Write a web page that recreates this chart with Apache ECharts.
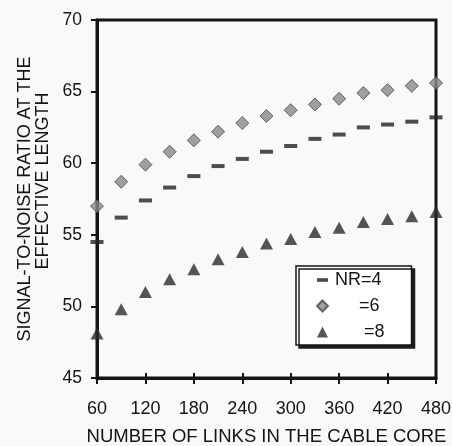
<!DOCTYPE html>
<html>
<head>
<meta charset="utf-8">
<script src="https://cdn.jsdelivr.net/npm/echarts@6/dist/echarts.min.js"></script>
<style>
html, body { margin: 0; padding: 0; background: #f8f9fb; }
#container { width: 452px; height: 446px; }
</style>
</head>
<body>
<div id="container"></div>
<script>
// number of links in the cable core
var links = [60, 90, 120, 150, 180, 210, 240, 270, 300, 330, 360, 390, 420, 450, 480];
// signal-to-noise ratio at the effective length, per NR
var snrNR4 = [54.5, 56.2, 57.4, 58.3, 59.1, 59.8, 60.3, 60.8, 61.2, 61.7, 62.0, 62.5, 62.7, 62.9, 63.2];
var snrNR6 = [57.0, 58.7, 59.9, 60.8, 61.6, 62.2, 62.8, 63.3, 63.7, 64.1, 64.5, 64.9, 65.1, 65.4, 65.6];
var snrNR8 = [48.1, 49.8, 51.0, 51.9, 52.6, 53.3, 53.8, 54.4, 54.7, 55.2, 55.5, 55.9, 56.1, 56.3, 56.6];
var seriesNames = ['NR=4', '=6', '=8'];

function pairs(ys) {
    return links.map(function (x, i) { return [x, ys[i]]; });
}

window.onload = function()
{
var myChart = echarts.init(document.getElementById('container'), null, {renderer: 'canvas'});
var font = 'Liberation Sans, Arial, sans-serif';
var ink = '#141414';

var option = {
    backgroundColor: '#f8f9fb',
    textStyle: { fontFamily: font, color: ink },
    grid: {
        left: 97, right: 16, top: 20, bottom: 68,
        outerBoundsMode: 'none',
        show: true,
        borderColor: ink,
        borderWidth: 3
    },
    legend: {
        orient: 'vertical',
        left: 296,
        top: 266,
        padding: [5, 27, 4, 20],
        itemGap: 8,
        itemWidth: 11,
        itemHeight: 11,
        backgroundColor: '#ffffff',
        borderColor: ink,
        borderWidth: 1.5,
        shadowColor: '#1c1c1c',
        shadowBlur: 0,
        shadowOffsetX: 3,
        shadowOffsetY: 3,
        selectedMode: false,
        textStyle: {
            fontSize: 18,
            color: ink,
            rich: {
                p0: { fontSize: 18, padding: [0, 0, 0, 2] },
                p1: { fontSize: 18, padding: [0, 0, 0, 26] },
                p2: { fontSize: 18, padding: [0, 0, 0, 31] }
            }
        },
        formatter: function (name) {
            return '{p' + seriesNames.indexOf(name) + '|' + name + '}';
        },
        data: [
            { name: seriesNames[0], icon: 'path://M0,0M12,12M0,4h12v4h-12z' },
            { name: seriesNames[1], icon: 'diamond' },
            { name: seriesNames[2], icon: 'triangle' }
        ]
    },
    xAxis: [{
        type: 'value',
        min: 60,
        max: 480,
        interval: 60,
        name: 'NUMBER OF LINKS IN THE CABLE CORE',
        nameLocation: 'middle',
        nameGap: 49,
        nameTextStyle: { fontSize: 18.5, color: ink, fontFamily: font },
        axisLine: { lineStyle: { color: ink, width: 3 } },
        axisTick: { length: 6, lineStyle: { color: ink, width: 2 } },
        axisLabel: { fontSize: 18, color: ink, margin: 22 },
        splitLine: { show: false }
    }, {
        // inward half of the crossing ticks
        type: 'value',
        position: 'bottom',
        min: 60,
        max: 480,
        interval: 60,
        axisLine: { show: false },
        axisTick: { inside: true, length: 5, lineStyle: { color: ink, width: 2 } },
        axisLabel: { show: false },
        splitLine: { show: false }
    }],
    yAxis: {
        type: 'value',
        min: 45,
        max: 70,
        interval: 5,
        name: '{a|SIGNAL-TO-NOISE RATIO AT THE}\n{b|EFFECTIVE LENGTH}',
        nameLocation: 'middle',
        nameGap: 45,
        nameTextStyle: {
            fontSize: 18,
            color: ink,
            fontFamily: font,
            lineHeight: 18,
            rich: {
                a: { fontSize: 18, lineHeight: 18, fontFamily: font, color: ink },
                b: { fontSize: 18, lineHeight: 18, fontFamily: font, color: ink, padding: [0, 0, 0, 36] }
            }
        },
        axisLine: { lineStyle: { color: ink, width: 3 } },
        axisTick: { length: 6, lineStyle: { color: ink, width: 2 } },
        axisLabel: { fontSize: 17.5, color: ink, margin: 15 },
        splitLine: { show: false }
    },
    series: [
        {
            name: seriesNames[0],
            type: 'scatter',
            symbol: 'rect',
            symbolSize: [13, 4],
            itemStyle: { color: '#222222' },
            data: pairs(snrNR4)
        },
        {
            name: seriesNames[1],
            type: 'scatter',
            symbol: 'diamond',
            symbolSize: 13,
            itemStyle: { color: '#888888', borderColor: '#4a4a4a', borderWidth: 1 },
            data: pairs(snrNR6)
        },
        {
            name: seriesNames[2],
            type: 'scatter',
            symbol: 'triangle',
            symbolSize: [13, 12],
            itemStyle: { color: '#2a2a2a' },
            data: pairs(snrNR8)
        }
    ]
};

myChart.setOption(option);
};
</script>
</body>
</html>
